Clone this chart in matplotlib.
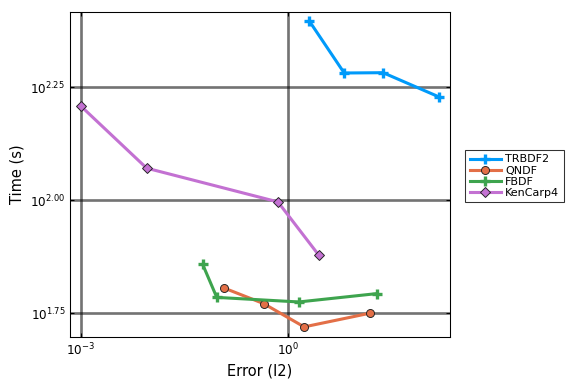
import numpy as np
import matplotlib
matplotlib.use("Agg")
from matplotlib import pyplot as plt
from matplotlib.ticker import FixedLocator, FixedFormatter, NullLocator

# data (error, time)
trbdf2_err = [2.04, 6.55, 24.0, 156.0]
trbdf2_time = [249.3, 191.2, 191.5, 169.2]

qndf_err = [0.118, 0.445, 1.72, 15.6]
qndf_time = [63.9, 59.0, 52.4, 56.2]

fbdf_err = [0.058, 0.093, 1.44, 19.7]
fbdf_time = [72.1, 60.9, 59.5, 62.1]

kencarp4_err = [0.001, 0.00895, 0.716, 2.81]
kencarp4_time = [161.4, 117.7, 99.1, 75.5]

xticks = [1e-3, 1e0]
xlabels = ["$10^{-3}$", "$10^{0}$"]
yticks = [10**1.75, 10**2.0, 10**2.25]
ylabels = ["$10^{1.75}$", "$10^{2.00}$", "$10^{2.25}$"]

fig = plt.figure(figsize=(6, 4), dpi=96)
ax = fig.add_axes([0.1215, 0.1232, 0.6597, 0.8456])

lw = 2.3
ax.plot(trbdf2_err, trbdf2_time, color="#009AFA", lw=lw, marker="+",
        markersize=7, markeredgewidth=2.5, label="TRBDF2")
ax.plot(qndf_err, qndf_time, color="#E36F47", lw=lw, marker="o",
        markersize=6, markeredgecolor="#222222", markeredgewidth=0.7, label="QNDF")
ax.plot(fbdf_err, fbdf_time, color="#3EA44E", lw=lw, marker="+",
        markersize=7, markeredgewidth=2.5, label="FBDF")
ax.plot(kencarp4_err, kencarp4_time, color="#C371D2", lw=lw, marker="D",
        markersize=5, markeredgecolor="#222222", markeredgewidth=0.7, label="KenCarp4")

ax.set_xscale("log")
ax.set_yscale("log")
ax.set_xlim(10**-3.16, 10**2.35)
ax.set_ylim(10**1.6976, 10**2.4166)

ax.xaxis.set_major_locator(FixedLocator(xticks))
ax.xaxis.set_major_formatter(FixedFormatter(xlabels))
ax.xaxis.set_minor_locator(NullLocator())
ax.yaxis.set_major_locator(FixedLocator(yticks))
ax.yaxis.set_major_formatter(FixedFormatter(ylabels))
ax.yaxis.set_minor_locator(NullLocator())

ax.grid(True, color="black", alpha=0.55, lw=2.0)
ax.tick_params(direction="in", length=3, labelsize=9, top=True, right=True,
               labeltop=False, labelright=False)
for s in ax.spines.values():
    s.set_linewidth(0.8)

ax.set_xlabel("Error (l2)", fontsize=11)
ax.set_ylabel("Time (s)", fontsize=11)

leg = ax.legend(loc="upper left", bbox_to_anchor=(1.04, 0.575), fontsize=8.3,
                frameon=True, fancybox=False, edgecolor="black",
                handlelength=2.8, borderpad=0.4, labelspacing=0.1,
                handletextpad=0.4, borderaxespad=0)
leg.get_frame().set_linewidth(0.8)

plt.savefig("out.png", dpi=96)
